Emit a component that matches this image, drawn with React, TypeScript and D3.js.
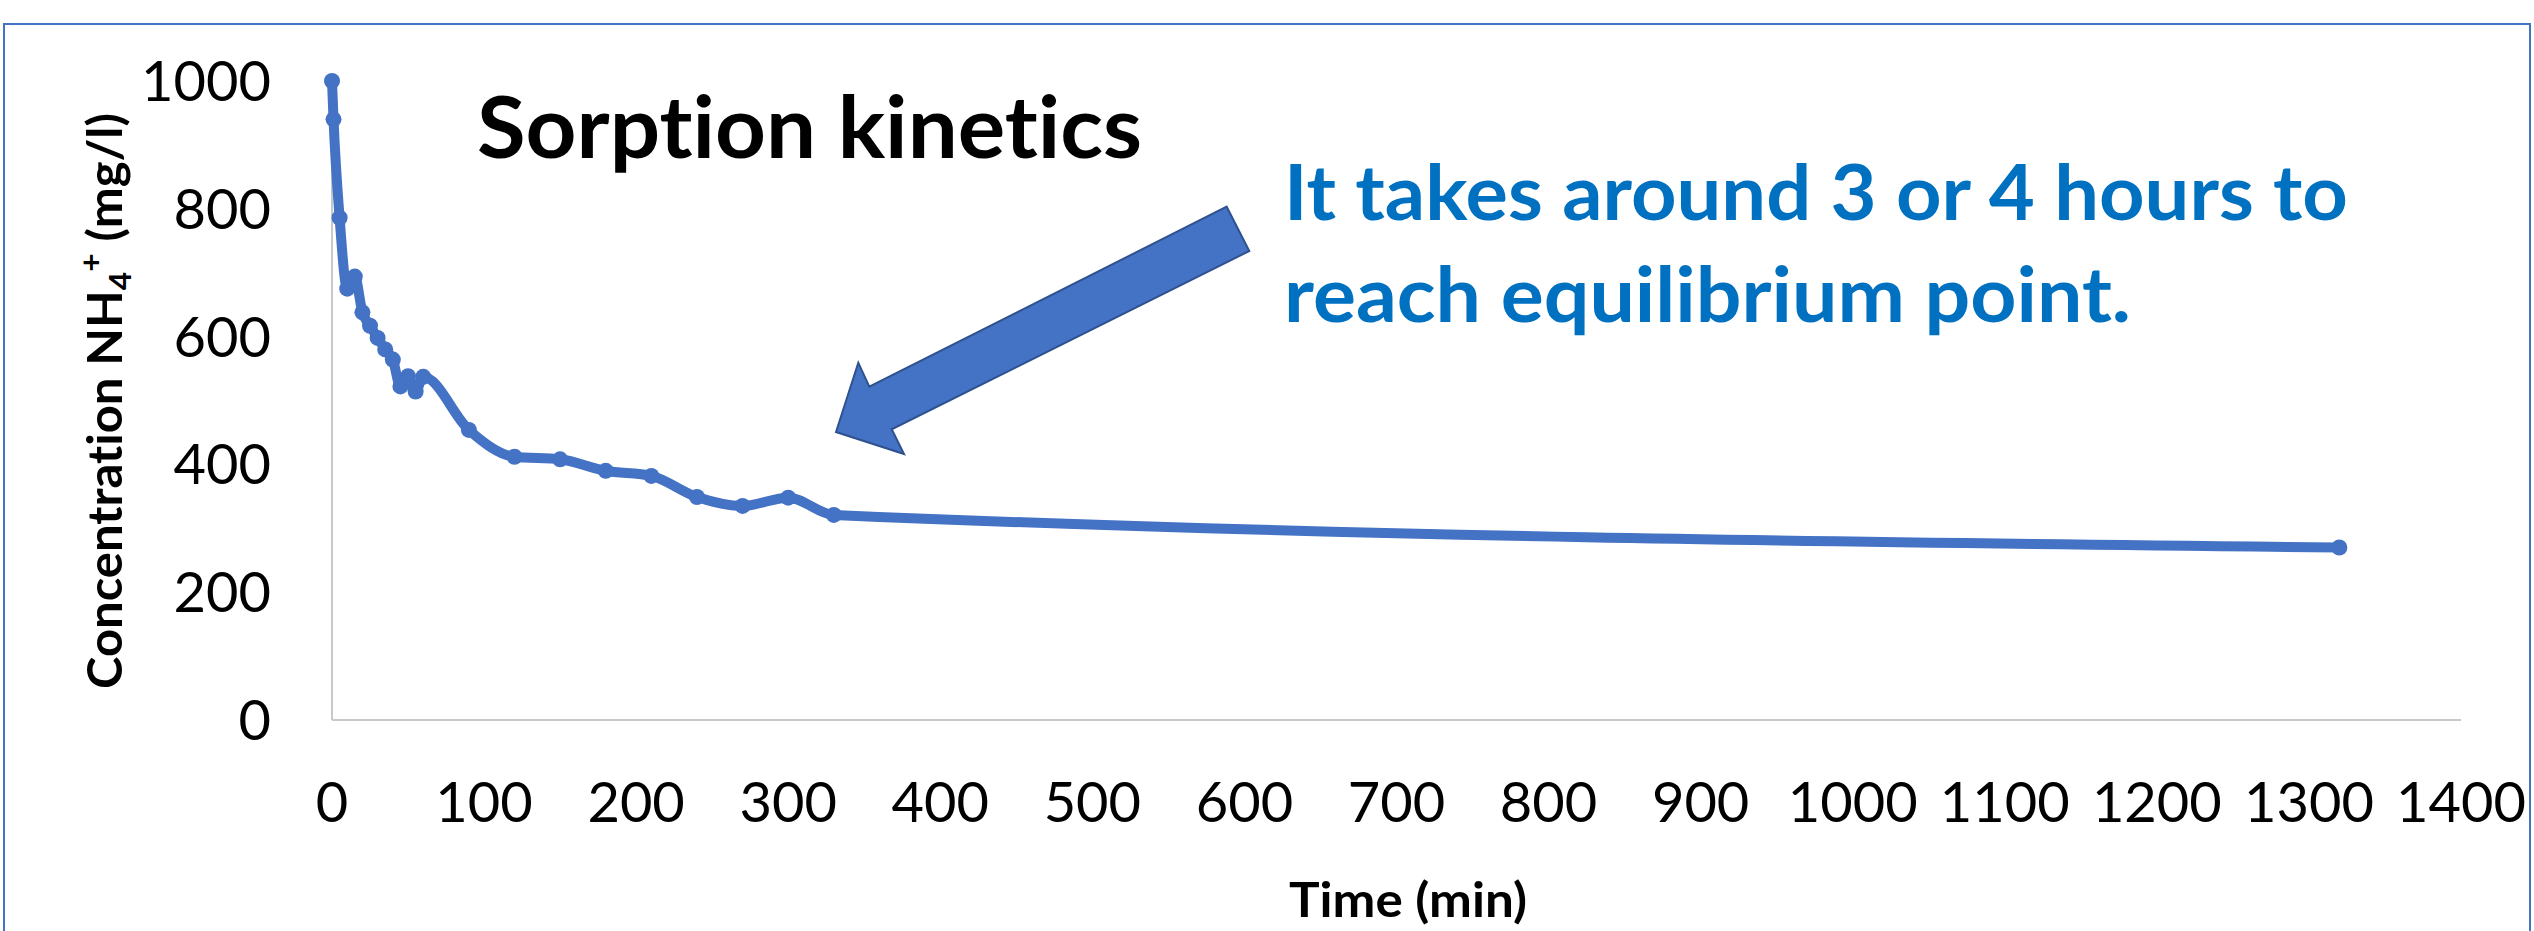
import React from "react";
import * as d3 from "d3";

// ---- data ----
const timeMin = [0, 1, 5, 10, 15, 20, 25, 30, 35, 40, 45, 50, 55, 60, 90, 120, 150, 180, 210, 240, 270, 300, 330, 1320];
const concentration = [1000, 940, 786, 675, 694, 638, 617, 598, 580, 564, 522, 538, 514, 537, 454, 412, 408, 390, 382, 349, 335, 348, 321, 270];
const xTicks = [0, 100, 200, 300, 400, 500, 600, 700, 800, 900, 1000, 1100, 1200, 1300, 1400];
const yTicks = [0, 200, 400, 600, 800, 1000];
const titleText = "Sorption kinetics";
const noteLines = ["It takes around 3 or 4 hours to", "reach equilibrium point."];
const xTitle = "Time (min)";

const W = 2534;
const H = 931;
const BLUE = "#4472C4";
const NOTE_BLUE = "#0070C0";
const FONT = "Lato, 'Noto Sans', sans-serif";
const noLig = { fontVariantLigatures: "none" } as React.CSSProperties;

export default function App() {
  const x = d3.scaleLinear().domain([0, 1400]).range([332, 2461]);
  const y = d3.scaleLinear().domain([0, 1000]).range([720, 81]);

  const pts: [number, number][] = timeMin.map((t, i) => [t, concentration[i]]);
  const line = d3
    .line<[number, number]>()
    .x((d) => x(d[0]))
    .y((d) => y(d[1]))
    .curve(d3.curveMonotoneX);

  // annotation arrow (block arrow shape, in page pixels)
  const arrow: [number, number][] = [
    [1226.7, 206.7],
    [1249.3, 251],
    [891.7, 429.3],
    [904, 454],
    [836, 432],
    [858.3, 362.7],
    [869.3, 386.7],
  ];

  return (
    <svg
      width={W}
      height={H}
      style={{ position: "absolute", left: 0, top: 0, background: "#fff" }}
      xmlns="http://www.w3.org/2000/svg"
    >
      <rect x={0} y={0} width={W} height={H} fill="#fff" />
      {/* outer frame */}
      <rect x={4} y={24} width={2526} height={1000} fill="none" stroke={BLUE} strokeWidth={2} />

      {/* axes */}
      <line x1={x(0)} x2={x(0)} y1={y(1000)} y2={y(0)} stroke="#C8C8C8" strokeWidth={2} />
      <line x1={x(0)} x2={x(1400)} y1={y(0)} y2={y(0)} stroke="#C8C8C8" strokeWidth={2} />

      {/* y tick labels */}
      {yTicks.map((v) => (
        <text
          key={"y" + v}
          x={271}
          y={y(v) + 20}
          textAnchor="end"
          fontFamily={FONT}
          fontSize={56}
          fill="#000"
        >
          {v}
        </text>
      ))}

      {/* x tick labels */}
      {xTicks.map((v) => (
        <text
          key={"x" + v}
          x={x(v)}
          y={822}
          textAnchor="middle"
          fontFamily={FONT}
          fontSize={56}
          fill="#000"
        >
          {v}
        </text>
      ))}

      {/* axis titles */}
      <text
        x={1408}
        y={917}
        textAnchor="middle"
        fontFamily={FONT}
        fontWeight={700}
        fontSize={48}
        textLength={238}
        lengthAdjust="spacingAndGlyphs"
      >
        {xTitle}
      </text>
      <text
        transform="translate(122,401) rotate(-90)"
        textAnchor="middle"
        fontFamily={FONT}
        fontWeight={700}
        fontSize={48}
        textLength={576}
        lengthAdjust="spacingAndGlyphs"
        style={noLig}
      >
        <tspan>Concentration NH</tspan>
        <tspan fontSize={31} dy={9}>4</tspan>
        <tspan fontSize={31} dy={-29}>+</tspan>
        <tspan dy={20}> (mg/l)</tspan>
      </text>

      {/* data line */}
      <path d={line(pts) || ""} fill="none" stroke={BLUE} strokeWidth={10} strokeLinejoin="round" strokeLinecap="round" />
      {pts.map((d, i) => (
        <circle key={i} cx={x(d[0])} cy={y(d[1])} r={8} fill={BLUE} />
      ))}

      {/* title */}
      <text
        x={477}
        y={158}
        fontFamily={FONT}
        fontWeight={700}
        fontSize={86}
        textLength={665}
        lengthAdjust="spacingAndGlyphs"
        fill="#000"
        style={noLig}
      >
        {titleText}
      </text>

      {/* arrow annotation */}
      <polygon
        points={arrow.map((p) => p.join(",")).join(" ")}
        fill={BLUE}
        stroke="#2F528F"
        strokeWidth={2}
        strokeLinejoin="miter"
      />

      {/* note */}
      <text x={1284} y={220} fontFamily={FONT} fontWeight={700} fontSize={77} fill={NOTE_BLUE} textLength={1064} lengthAdjust="spacingAndGlyphs" style={noLig}>
        {noteLines[0]}
      </text>
      <text x={1284} y={322} fontFamily={FONT} fontWeight={700} fontSize={77} fill={NOTE_BLUE} textLength={847} lengthAdjust="spacingAndGlyphs" style={noLig}>
        {noteLines[1]}
      </text>
    </svg>
  );
}
